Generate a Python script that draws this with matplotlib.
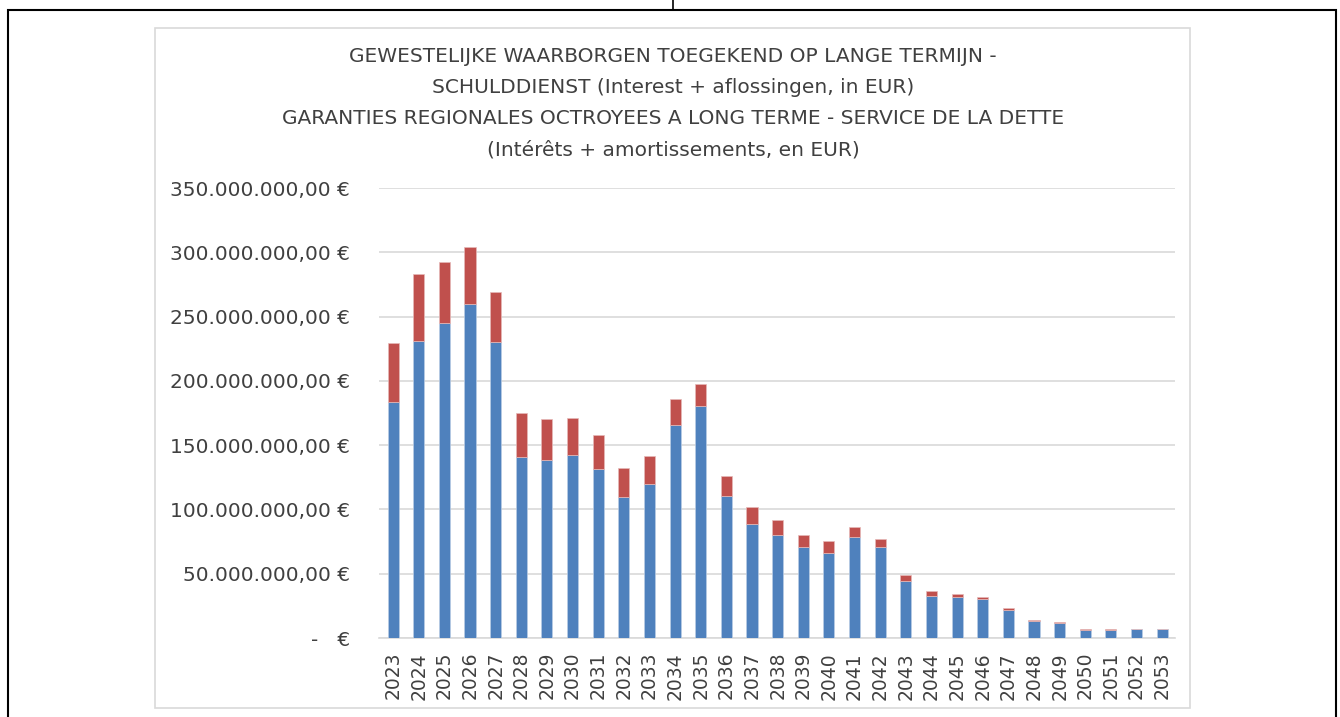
import matplotlib.pyplot as plt
import matplotlib.patches as mpatches
from matplotlib.lines import Line2D
import numpy as np

years = [str(y) for y in range(2023, 2054)]

# aflossingen / amortissements (blue), in million EUR
aflossingen = [183.9, 230.8, 244.8, 260.1, 230.3, 140.4, 138.8, 142.2, 131.3, 109.3,
               119.4, 166.0, 180.8, 110.8, 88.3, 80.0, 70.4, 66.5, 78.7, 70.9,
               44.7, 32.8, 31.7, 30.2, 21.4, 13.3, 11.8, 6.1, 6.1, 6.8, 6.8]
# interest / interets (red), in million EUR
interest = [45.6, 52.6, 48.0, 43.8, 38.9, 34.4, 31.6, 29.0, 26.4, 23.0,
            22.0, 20.0, 17.1, 15.0, 13.2, 11.4, 10.1, 9.1, 7.5, 6.2,
            4.4, 3.6, 2.7, 1.8, 2.3, 0.8, 0.8, 1.0, 1.0, 0.3, 0.3]

yticks = [0, 50e6, 100e6, 150e6, 200e6, 250e6, 300e6, 350e6]
ytick_labels = ['-   €', '50.000.000,00 €', '100.000.000,00 €', '150.000.000,00 €',
                '200.000.000,00 €', '250.000.000,00 €', '300.000.000,00 €', '350.000.000,00 €']

title = ('GEWESTELIJKE WAARBORGEN TOEGEKEND OP LANGE TERMIJN -\n'
         'SCHULDDIENST (Interest + aflossingen, in EUR)\n'
         'GARANTIES REGIONALES OCTROYEES A LONG TERME - SERVICE DE LA DETTE\n'
         '(Intérêts + amortissements, en EUR)')

W, H = 1340, 717
fig = plt.figure(figsize=(W / 100, H / 100), dpi=100)

# page border and chart frame
fig.add_artist(Line2D([673 / W, 673 / W], [1, 1 - 10 / H], color='black', lw=1.2))
fig.add_artist(mpatches.Rectangle((8 / W, -0.05), (1336 - 8) / W, 1.05 - 10 / H,
                                  transform=fig.transFigure, fill=False,
                                  edgecolor='black', lw=1.5))
fig.add_artist(mpatches.Rectangle((155 / W, 1 - 708 / H), (1190 - 155) / W, (708 - 28) / H,
                                  transform=fig.transFigure, fill=False,
                                  edgecolor='#d9d9d9', lw=1.2))

ax = fig.add_axes([379 / W, 1 - 638 / H, (1175 - 379) / W, 450 / H])

x = np.arange(len(years))
blue = np.array(aflossingen) * 1e6
red = np.array(interest) * 1e6
ax.bar(x, blue, width=0.43, color='#4F81BD', edgecolor='#b9cde5', linewidth=0.5, zorder=3)
ax.bar(x, red, width=0.43, bottom=blue, color='#C0504D', edgecolor='#e6b9b8',
       linewidth=0.5, zorder=3)

ax.set_xlim(-0.55, 30.5)
ax.set_ylim(0, 350e6)
ax.set_yticks(yticks)
ax.set_yticklabels(ytick_labels)
ax.set_xticks(x)
ax.set_xticklabels(years, rotation=90)
ax.grid(axis='y', color='#d9d9d9', lw=1.2, zorder=0)
for s in ['top', 'right', 'left']:
    ax.spines[s].set_visible(False)
ax.spines['bottom'].set_color('#d9d9d9')
ax.spines['bottom'].set_linewidth(1.2)
ax.tick_params(axis='y', length=0, pad=21, labelsize=14.5, labelcolor='#404040')
ax.tick_params(axis='x', length=0, pad=10, labelsize=13.5, labelcolor='#404040')

fig.text(673 / W, 1 - 47 / H, title, ha='center', va='top', fontsize=14.5,
         color='#404040', linespacing=1.8)

fig.savefig('out.png', dpi=100)
